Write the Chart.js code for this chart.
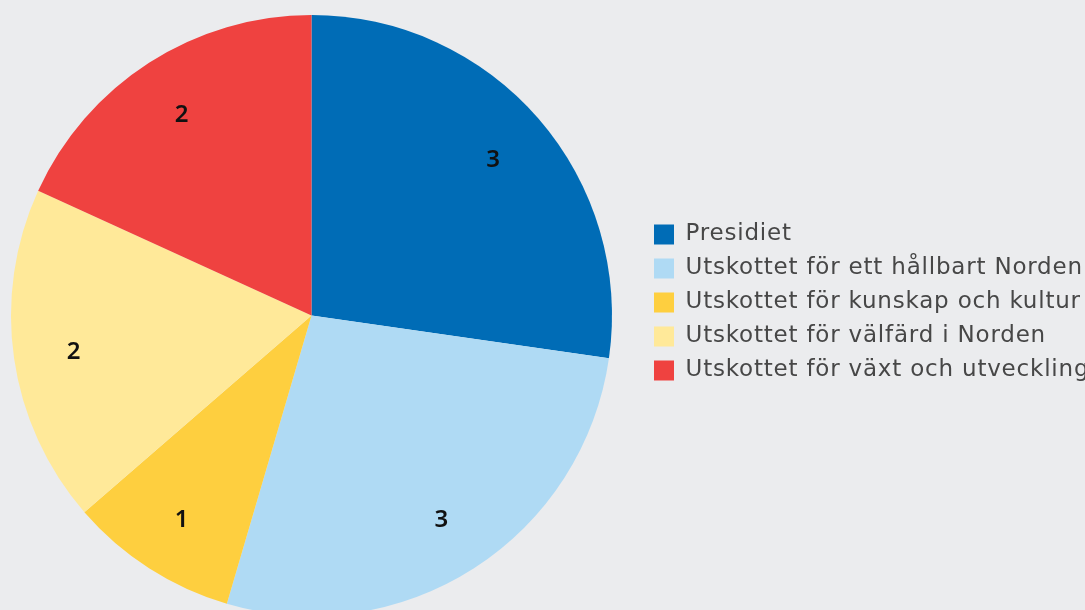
<!DOCTYPE html>
<html>
<head>
<meta charset="utf-8">
<script src="https://cdn.jsdelivr.net/npm/chart.js@4"></script>
<style>
  html, body { margin: 0; padding: 0; background: #ebecee; overflow: hidden; }
  #wrap { position: absolute; left: 0; top: 0; width: 1103px; height: 640px; }
</style>
</head>
<body>
<div id="wrap"><canvas id="chart"></canvas></div>
<script>
var labels = [
    "Presidiet",
    "Utskottet för ett hållbart Norden",
    "Utskottet för kunskap och kultur i Norden",
    "Utskottet för välfärd i Norden",
    "Utskottet för växt och utveckling i Norden"
];
var values = [3, 3, 1, 2, 2];
var colors = ["#006cb6", "#afdaf4", "#fecf3f", "#ffe999", "#ef4240"];

// numbers inside the slices
var sliceLabels = {
    id: "sliceLabels",
    afterDatasetsDraw: function(chart)
    {
        var ctx = chart.ctx;
        var meta = chart.getDatasetMeta(0);
        ctx.save();
        ctx.font = "600 24px 'Noto Sans'";
        ctx.fillStyle = "#111111";
        ctx.textAlign = "center";
        ctx.textBaseline = "middle";
        meta.data.forEach(function(arc, i)
        {
            var p = arc.getProps(["x", "y", "startAngle", "endAngle", "outerRadius"], true);
            var a = (p.startAngle + p.endAngle) / 2;
            var r = p.outerRadius * 0.8;
            ctx.fillText(String(values[i]), p.x + Math.cos(a) * r, p.y + Math.sin(a) * r + 2);
        });
        ctx.restore();
    }
};

// nudge the legend block to where it sits in the original,
// and space its letters a little like the original typeface
var legendShift = {
    id: "legendShift",
    afterLayout: function(chart)
    {
        var l = chart.legend;
        l.left += 20; l.right += 20;
        l.top -= 13; l.bottom -= 13;
    },
    beforeDraw: function(chart)
    {
        chart.ctx.letterSpacing = "0.8px";
    },
    beforeDatasetsDraw: function(chart)
    {
        chart.ctx.letterSpacing = "0px";
    }
};

new Chart(document.getElementById("chart"), {
    type: "pie",
    data: {
        labels: labels,
        datasets: [{
            data: values,
            backgroundColor: colors,
            borderWidth: 0,
            hoverBorderWidth: 0,
            hoverOffset: 0,
            offset: 0
        }]
    },
    options: {
        responsive: true,
        maintainAspectRatio: false,
        animation: false,
        layout: { padding: { top: 15, bottom: 24, left: 0, right: 30 } },
        plugins: {
            legend: {
                position: "right",
                maxWidth: 450,
                labels: {
                    boxWidth: 20,
                    boxHeight: 20,
                    padding: 11,
                    color: "#474747",
                    font: { family: "DejaVu Sans", size: 23 }
                }
            },
            tooltip: { enabled: false }
        }
    },
    plugins: [sliceLabels, legendShift]
});
</script>
</body>
</html>
